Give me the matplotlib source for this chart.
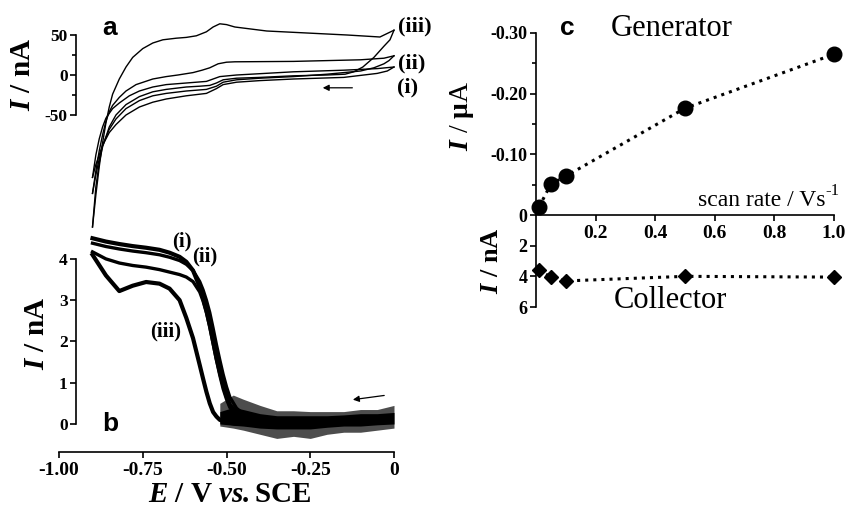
import matplotlib
matplotlib.use("Agg")
import matplotlib.pyplot as plt

plt.rcParams['font.family'] = 'Liberation Serif'
plt.rcParams['font.weight'] = 'bold'
plt.rcParams['axes.unicode_minus'] = False
plt.rcParams['mathtext.fontset'] = 'custom'
plt.rcParams['mathtext.rm'] = 'Liberation Serif'
plt.rcParams['mathtext.it'] = 'Liberation Serif:italic'
plt.rcParams['mathtext.bf'] = 'Liberation Serif:italic:bold'

# ---- panel a: cyclic voltammograms (E / V, I / nA) ----
cv1_fwd_E = [0.0, -0.02, -0.05, -0.15, -0.30, -0.40, -0.47, -0.51, -0.53, -0.56, -0.62, -0.68, -0.72,
             -0.76, -0.80, -0.83, -0.85, -0.87, -0.88, -0.89, -0.90]
cv1_fwd_I = [10, 5, 2, -3, -5, -7, -9, -12, -17, -23, -26, -30, -34, -40, -50, -62, -72, -88, -100, -112, -128]
cv1_rev_E = [-0.90, -0.89, -0.88, -0.87, -0.86, -0.84, -0.82, -0.79, -0.76, -0.72, -0.68, -0.62, -0.56,
             -0.54, -0.52, -0.47, -0.30, -0.15, -0.05, 0.0]
cv1_rev_I = [-128, -100, -80, -65, -54, -42, -35, -26, -20, -15, -12, -10, -8, -5, -2, 0, 4, 6, 8, 10]

cv2_fwd_E = [0.0, -0.015, -0.03, -0.06, -0.10, -0.20, -0.30, -0.40, -0.47, -0.51, -0.53, -0.56, -0.62,
             -0.68, -0.72, -0.76, -0.80, -0.83, -0.85, -0.87, -0.88, -0.89, -0.90]
cv2_fwd_I = [24, 18, 14, 9, 5, 1, -2, -4, -6, -9, -14, -18, -20, -23, -26, -32, -42, -55, -68, -88, -105, -125, -148]
cv2_rev_E = [-0.90, -0.89, -0.88, -0.87, -0.86, -0.85, -0.84, -0.82, -0.80, -0.77, -0.72, -0.68, -0.645,
             -0.60, -0.573, -0.55, -0.525, -0.50, -0.475, -0.30, -0.10, -0.03, 0.0]
cv2_rev_I = [-148, -120, -95, -75, -58, -46, -38, -28, -20, -12, -5, -2, 0, 3, 6, 9, 14, 16, 16.5, 17, 19, 21, 24]

cv3_fwd_E = [0.0, -0.012, -0.03, -0.06, -0.093, -0.12, -0.146, -0.20, -0.30, -0.40, -0.47, -0.51, -0.53,
             -0.55, -0.58, -0.62, -0.68, -0.72, -0.76, -0.80, -0.83, -0.85, -0.87, -0.88, -0.89, -0.90]
cv3_fwd_I = [56, 44, 36, 22, 10, 4, 1, 0, -1, -3, -4, -6, -10, -13, -14, -15, -18, -21, -27, -37, -50, -65,
             -90, -110, -140, -190]
cv3_rev_E = [-0.90, -0.89, -0.88, -0.87, -0.86, -0.85, -0.84, -0.82, -0.80, -0.78, -0.75, -0.72, -0.69,
             -0.65, -0.62, -0.59, -0.56, -0.54, -0.52, -0.50, -0.475, -0.38, -0.14, -0.042, 0.0]
cv3_rev_I = [-190, -150, -115, -85, -60, -40, -24, -5, 10, 22, 33, 40, 44, 46, 47, 49, 54, 60, 64, 63, 60,
             55, 50, 47.5, 56]

# ---- panel b: collector currents ----
colE = [-0.90, -0.86, -0.82, -0.78, -0.74, -0.70, -0.67, -0.64, -0.62, -0.60, -0.58, -0.57, -0.56, -0.55,
        -0.54, -0.53, -0.52, -0.51, -0.50, -0.49, -0.47, -0.45, -0.40, -0.30, -0.20, -0.10, 0.0]
col_i = [4.50, 4.42, 4.36, 4.31, 4.27, 4.22, 4.15, 4.05, 3.93, 3.72, 3.32, 3.05, 2.75, 2.40, 2.00, 1.60,
         1.26, 0.95, 0.68, 0.46, 0.28, 0.20, 0.12, 0.05, 0.05, 0.10, 0.15]
col_ii = [4.38, 4.30, 4.24, 4.19, 4.15, 4.10, 4.04, 3.96, 3.87, 3.72, 3.45, 3.25, 3.00, 2.70, 2.32, 1.92,
          1.55, 1.20, 0.90, 0.65, 0.38, 0.25, 0.15, 0.05, 0.05, 0.10, 0.15]
col_ii_b = [4.17, 4.00, 3.90, 3.84, 3.80, 3.74, 3.68, 3.62, 3.56, 3.45, 3.20, 2.98, 2.70, 2.35, 1.95, 1.55,
            1.18, 0.85, 0.60, 0.40, 0.22, 0.15, 0.10, 0.05, 0.05, 0.10, 0.15]
col_iii = [4.10, 3.60, 3.22, 3.35, 3.44, 3.40, 3.28, 3.00, 2.57, 2.08, 1.43, 1.10, 0.78, 0.50, 0.29, 0.18,
           0.10, 0.07, 0.05, 0.03, 0.0, 0.0, 0.0, 0.0, 0.05, 0.10, 0.15]
# noise band on the baseline
baseE = [-0.52, -0.48, -0.45, -0.40, -0.35, -0.30, -0.25, -0.20, -0.15, -0.10, -0.05, 0.0]
base_hi = [0.50, 0.70, 0.60, 0.45, 0.32, 0.32, 0.30, 0.30, 0.30, 0.35, 0.35, 0.45]
base_lo = [-0.05, -0.10, -0.15, -0.25, -0.35, -0.30, -0.35, -0.25, -0.20, -0.20, -0.15, -0.10]
core_hi = [0.30, 0.40, 0.35, 0.25, 0.20, 0.20, 0.20, 0.20, 0.22, 0.25, 0.25, 0.28]
core_lo = [0.0, -0.03, -0.05, -0.10, -0.12, -0.12, -0.12, -0.08, -0.05, -0.05, -0.02, 0.0]

# ---- panel c: peak currents vs scan rate ----
scan_rate = [0.01, 0.05, 0.1, 0.5, 1.0]
gen_I = [-0.013, -0.051, -0.064, -0.176, -0.265]   # uA
coll_I = [3.6, 4.05, 4.3, 4.0, 4.05]              # nA

W, H = 849, 507
fig = plt.figure(figsize=(W / 100, H / 100), dpi=100)


def box(x0, y0, x1, y1):
    return [x0 / W, 1 - y1 / H, (x1 - x0) / W, (y1 - y0) / H]


def ftext(x, y, s, **kw):
    fig.text(x / W, 1 - y / H, s, **kw)


# E axis: -1.00 at x=59 px, 0 at x=394 px
axb = fig.add_axes(box(59, 230, 394, 452))
axb.set_facecolor('none')
axb.set_xlim(-1.0, 0.0)
axb.set_ylim(-0.679, 4.70)
axa = fig.add_axes(box(59, 15, 394, 240))
axa.set_facecolor('none')
axa.set_xlim(-1.0, 0.0)
axa.set_ylim(-206.25, 75)

for E, I in [(cv1_fwd_E, cv1_fwd_I), (cv1_rev_E, cv1_rev_I), (cv2_fwd_E, cv2_fwd_I),
             (cv2_rev_E, cv2_rev_I), (cv3_fwd_E, cv3_fwd_I), (cv3_rev_E, cv3_rev_I)]:
    axa.plot(E, I, color='black', lw=1.0, clip_on=False)

axb.fill_between(baseE, base_lo, base_hi, color='0.3', lw=0)
axb.fill_between(baseE, core_lo, core_hi, color='black', lw=0)
axb.plot(colE, col_i, color='black', lw=3.0)
axb.plot(colE, col_ii, color='black', lw=2.4)
axb.plot(colE, col_ii_b, color='black', lw=2.4)
axb.plot(colE, col_iii, color='black', lw=3.0)

spine_x = -0.949
for ax in (axa, axb):
    for s in ('top', 'right'):
        ax.spines[s].set_visible(False)
    ax.spines['left'].set_position(('data', spine_x))
    ax.spines['left'].set_linewidth(1.2)
    ax.tick_params(axis='y', direction='out', length=4, width=1.2, labelsize=12.5, pad=2)
    ax.tick_params(axis='y', which='minor', direction='out', length=3, width=1.2)

axa.spines['bottom'].set_visible(False)
axa.set_xticks([])
axa.spines['left'].set_bounds(-50, 50)
axa.set_yticks([-50, 0, 50])
axa.set_yticklabels(['-50', '0', '50'])
axa.set_yticks([-25, 25], minor=True)

axb.spines['left'].set_bounds(0, 4)
axb.set_yticks([0, 1, 2, 3, 4])
axb.set_yticklabels(['0', '1', '2', '3', '4'])
axb.spines['bottom'].set_linewidth(1.2)
axb.set_xticks([-1.0, -0.75, -0.5, -0.25, 0.0])
axb.set_xticklabels(['-1.00', '-0.75', '-0.50', '-0.25', '0'])
axb.tick_params(axis='x', direction='out', length=4, width=1.2, labelsize=14, pad=3)

# annotations in a and b
axa.annotate('', xy=(-0.221, -16), xytext=(-0.116, -16),
             arrowprops=dict(arrowstyle='-|>', color='black', lw=0.9, mutation_scale=9))
axb.annotate('', xy=(-0.131, 0.58), xytext=(-0.021, 0.70),
             arrowprops=dict(arrowstyle='-|>', color='black', lw=0.9, mutation_scale=9))
axa.text(0.012, 61, '(iii)', fontsize=16, va='center', ha='left', clip_on=False)
axa.text(0.012, 15, '(ii)', fontsize=16, va='center', ha='left', clip_on=False)
axa.text(0.009, -16, '(i)', fontsize=16, va='center', ha='left', clip_on=False)
axb.text(-0.663, 4.41, '(i)', fontsize=15, va='center', ha='left')
axb.text(-0.603, 4.05, '(ii)', fontsize=15, va='center', ha='left')
axb.text(-0.728, 2.25, '(iii)', fontsize=15, va='center', ha='left')

ftext(110, 28, 'a', family='Liberation Sans', fontsize=19, ha='center', va='center')
ftext(110, 424, 'b', family='Liberation Sans', fontsize=19, ha='center', va='center')
ftext(23, 74, r'$\mathbf{I}$ / nA', fontsize=21, rotation=90, ha='center', va='center')
ftext(37, 333, r'$\mathbf{I}$ / nA', fontsize=21, rotation=90, ha='center', va='center')
ftext(230, 495, r'$\mathbf{E}$ / V $\mathbf{vs.}$SCE', fontsize=21, ha='center', va='center')

# ---- panel c ----
axg = fig.add_axes(box(536, 33, 834, 215))
axg.set_facecolor('none')
axg.set_xlim(0, 1.0)
axg.set_ylim(0, -0.30)
axc = fig.add_axes(box(536, 215, 834, 307))
axc.set_facecolor('none')
axc.set_xlim(0, 1.0)
axc.set_ylim(6, 0)

axg.plot(scan_rate, gen_I, color='black', lw=2.2, ls=':', marker='o', ms=10.5, clip_on=False)
axc.plot(scan_rate, coll_I, color='black', lw=2.2, ls=':', marker='D', ms=7.5, clip_on=False)

for ax in (axg, axc):
    for s in ('top', 'right'):
        ax.spines[s].set_visible(False)
    ax.spines['left'].set_linewidth(1.2)
    ax.tick_params(axis='y', direction='out', length=4, width=1.2, labelsize=13, pad=2)

axg.spines['bottom'].set_linewidth(1.2)
axg.set_yticks([0, -0.10, -0.20, -0.30])
axg.set_yticklabels(['0', '-0.10', '-0.20', '-0.30'])
axg.set_yticks([-0.05, -0.15, -0.25], minor=True)
axg.tick_params(axis='y', which='minor', direction='out', length=3, width=1.2)
axg.set_xticks([0.2, 0.4, 0.6, 0.8, 1.0])
axg.set_xticklabels(['0.2', '0.4', '0.6', '0.8', '1.0'])
axg.tick_params(axis='x', direction='out', length=4, width=1.2, labelsize=14, pad=3)

axc.spines['bottom'].set_visible(False)
axc.set_xticks([])
axc.set_yticks([2, 4, 6])
axc.set_yticklabels(['2', '4', '6'])

ftext(567, 28, 'c', family='Liberation Sans', fontsize=19, ha='center', va='center')
ftext(672, 28, 'Generator', fontsize=22, weight='normal', ha='center', va='center')
ftext(670, 301, 'Collector', fontsize=22, weight='normal', ha='center', va='center')
ftext(825, 200, 'scan rate / Vs', fontsize=17, weight='normal', ha='right', va='center')
ftext(825, 191, '-1', fontsize=12, weight='normal', ha='left', va='center')
ftext(462, 116, r'$I$ / $\mathrm{\mu}$A', fontsize=20, weight='normal', rotation=90, ha='center', va='center')
ftext(491, 261, r'$\mathbf{I}$ / nA', fontsize=19, rotation=90, ha='center', va='center')

fig.savefig('out.png', dpi=100)
